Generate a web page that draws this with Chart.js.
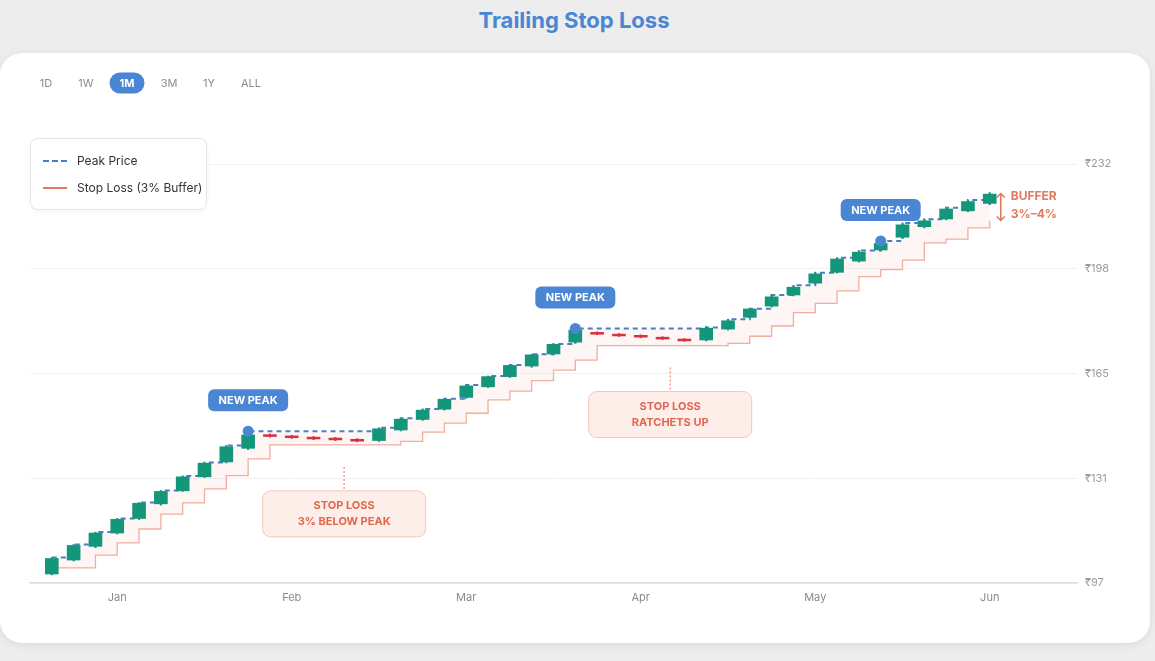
<!DOCTYPE html>
<html>
<head>
<meta charset="utf-8">
<title>Trailing Stop Loss</title>
<script src="https://cdn.jsdelivr.net/npm/chart.js@4.4.1/dist/chart.umd.min.js"></script>
<style>
  html, body { margin: 0; padding: 0; background: #ededed; font-family: Inter, "Noto Sans", sans-serif; }
  #title { position: absolute; left: 0; top: 5px; width: 1148px; text-align: center; font-size: 22px; font-weight: 700; color: #4a86d4; line-height: 30px; }
  #card { position: absolute; left: 0; top: 53px; width: 1150px; height: 590px; background: #fff; border-radius: 22px; box-shadow: 0 2px 10px rgba(0,0,0,0.08); }
  #chart { position: absolute; left: 0; top: 53px; }
  .rng { position: absolute; top: 83px; transform: translate(-50%, -50%); font-size: 11px; color: #8c8c8c; line-height: 13px; z-index: 2; }
  .rng.on { background: #4a86d4; color: #fff; font-weight: 700; padding: 4px 10px; border-radius: 11px; }
  #legend { position: absolute; left: 30px; top: 138px; width: 175px; height: 70px; background: #fff; border: 1px solid #e6e6e6; border-radius: 8px; box-shadow: 0 1px 4px rgba(0,0,0,0.05); z-index: 2; }
  .item { position: absolute; left: 12px; font-size: 12px; color: #333; line-height: 14px; }
  .item span { position: absolute; left: 34px; top: 0; white-space: nowrap; }
  .swatch { position: absolute; left: 0; top: 6px; width: 24px; height: 0; }
</style>
</head>
<body>
<div id="title">Trailing Stop Loss</div>
<div id="card"></div>
<canvas id="chart" width="1150" height="590"></canvas>

<div class="rng" style="left:46px">1D</div>
<div class="rng" style="left:86px">1W</div>
<div class="rng on" style="left:127px">1M</div>
<div class="rng" style="left:169px">3M</div>
<div class="rng" style="left:209px">1Y</div>
<div class="rng" style="left:251px">ALL</div>

<div id="legend">
  <div class="item" style="top:15px"><div class="swatch" style="border-top:2px dashed #4a7ec4"></div><span>Peak Price</span></div>
  <div class="item" style="top:42px"><div class="swatch" style="border-top:2px solid #e07a5f"></div><span>Stop Loss (3% Buffer)</span></div>
</div>

<script>
// month labels and the candle index they sit on
const months = ["Jan", "Feb", "Mar", "Apr", "May", "Jun"];
const monthPos = [3, 11, 19, 27, 35, 43];

// candles (one per step)
const openP = [99.9, 104.4, 108.8, 113.1, 117.8, 122.5, 126.7, 131.2, 136.0, 140.4,
  144.8, 144.4, 144.0, 143.7, 143.3,
  142.9, 146.3, 149.7, 153.0, 156.8, 160.2, 163.5, 166.9, 170.8, 174.6,
  177.75, 177.2, 176.8, 176.2, 175.6,
  175.3, 178.8, 182.6, 186.2, 189.8, 193.6, 197.1, 200.7, 204.3, 208.4, 211.8, 214.3, 216.9, 219.3];
const closeP = [104.9, 109.1, 113.1, 117.5, 122.7, 126.5, 131.2, 135.6, 140.9, 144.7,
  144.2, 143.8, 143.4, 143.1, 142.7,
  146.7, 149.8, 152.7, 156.2, 160.5, 163.5, 167.1, 170.5, 173.9, 178.5,
  177.15, 176.6, 176.2, 175.6, 175.0,
  179.1, 181.5, 185.3, 189.2, 192.3, 196.6, 201.4, 203.6, 206.4, 212.4, 213.7, 217.5, 219.9, 222.3];
const highP = [105.2, 109.4, 113.4, 117.8, 122.9, 126.8, 131.5, 135.8, 141.3, 145.9,
  145.0, 144.6, 144.2, 143.9, 143.5,
  147.0, 150.1, 153.1, 156.4, 160.8, 163.7, 167.2, 170.7, 174.0, 179.0,
  177.9, 177.35, 176.95, 176.35, 175.75,
  179.6, 182.0, 185.4, 189.8, 192.9, 197.0, 201.8, 204.1, 207.2, 213.0, 214.2, 217.9, 220.4, 222.8];
const lowP = [99.6, 104.1, 108.4, 112.8, 117.5, 122.1, 126.5, 131.0, 135.7, 140.0,
  144.0, 143.6, 143.2, 142.9, 142.5,
  142.6, 146.0, 149.4, 152.7, 156.5, 160.0, 163.2, 166.5, 170.5, 174.2,
  177.0, 176.45, 176.05, 175.45, 174.85,
  175.0, 178.5, 182.4, 185.9, 189.5, 193.3, 196.9, 200.4, 204.0, 208.0, 211.4, 214.0, 216.6, 218.9];

// running peak and trailing stop
const peakP = [105.2, 109.4, 113.4, 117.8, 122.9, 126.8, 131.5, 135.8, 141.3, 145.9,
  145.9, 145.9, 145.9, 145.9, 145.9,
  147.0, 150.1, 153.1, 156.4, 160.8, 163.7, 167.2, 170.7, 174.0, 179.0,
  179.0, 179.0, 179.0, 179.0, 179.0,
  179.3, 182.0, 185.4, 189.8, 192.9, 197.0, 201.8, 204.1, 207.2, 213.0, 214.2, 217.9, 220.4, 222.8];
const stopP = [101.9, 101.9, 106.0, 109.9, 114.4, 119.2, 122.8, 127.3, 131.6, 137.0,
  141.5, 141.5, 141.5, 141.5, 141.5, 141.5,
  142.6, 145.6, 148.5, 151.7, 156.0, 158.8, 162.2, 165.6, 168.8,
  173.5, 173.5, 173.5, 173.5, 173.5, 173.5,
  174.2, 176.5, 179.8, 184.1, 187.1, 191.1, 195.7, 198.0, 201.0, 206.6, 207.8, 211.4, 213.8];

const newPeakIdx = [9, 24, 38];
const callouts = [
  { at: 13.4, lines: ["STOP LOSS", "3% BELOW PEAK"] },
  { at: 28.35, lines: ["STOP LOSS", "RATCHETS UP"] }
];

const UP = "#14967a", DOWN = "#d8323f";
const candleColor = openP.map((o, i) => closeP[i] >= o ? UP : DOWN);
const xy = (arr) => arr.map((v, i) => ({ x: i, y: v }));

const notes = {
  id: "notes",
  afterDatasetsDraw(chart) {
    const { ctx, scales: { x, y } } = chart;
    ctx.save();
    ctx.textAlign = "center";
    ctx.textBaseline = "middle";

    // NEW PEAK tags
    newPeakIdx.forEach(i => {
      const px = x.getPixelForValue(i);
      const py = y.getPixelForValue(peakP[i]) - 31;
      ctx.fillStyle = "#4a86d4";
      ctx.beginPath();
      ctx.roundRect(px - 40, py - 11, 80, 22, 6);
      ctx.fill();
      ctx.fillStyle = "#fff";
      ctx.font = "700 11px Inter";
      ctx.fillText("NEW PEAK", px, py + 0.5);
    });

    // stop loss callouts
    callouts.forEach(c => {
      const px = x.getPixelForValue(c.at);
      const sy = y.getPixelForValue(stopP[Math.round(c.at)]);
      ctx.strokeStyle = "#e58a78";
      ctx.lineWidth = 1.2;
      ctx.setLineDash([2, 2]);
      ctx.beginPath();
      ctx.moveTo(px, sy + 22);
      ctx.lineTo(px, sy + 46);
      ctx.stroke();
      ctx.setLineDash([]);
      ctx.fillStyle = "#fdeee9";
      ctx.strokeStyle = "#f6c6ba";
      ctx.lineWidth = 1;
      ctx.beginPath();
      ctx.roundRect(px - 81.5, sy + 46, 163, 46, 8);
      ctx.fill();
      ctx.stroke();
      ctx.fillStyle = "#e0664f";
      ctx.font = "700 11px Inter";
      ctx.fillText(c.lines[0], px, sy + 61);
      ctx.fillText(c.lines[1], px, sy + 77);
    });

    // buffer arrow at the last candle
    const last = highP.length - 1;
    const ax = x.getPixelForValue(last) + 11;
    const y1 = y.getPixelForValue(highP[last]);
    const y2 = y.getPixelForValue(stopP[last]);
    ctx.strokeStyle = "#e07a5f";
    ctx.lineWidth = 1.6;
    ctx.beginPath();
    ctx.moveTo(ax, y1 + 1);
    ctx.lineTo(ax, y2);
    ctx.moveTo(ax - 4, y1 + 5); ctx.lineTo(ax, y1 + 1); ctx.lineTo(ax + 4, y1 + 5);
    ctx.moveTo(ax - 4, y2 - 4); ctx.lineTo(ax, y2); ctx.lineTo(ax + 4, y2 - 4);
    ctx.stroke();
    ctx.fillStyle = "#e07a5f";
    ctx.textAlign = "left";
    ctx.font = "700 12px Inter";
    ctx.fillText("BUFFER", ax + 10, y1 + 4);
    ctx.fillText("3%\u20134%", ax + 10, y1 + 22);
    ctx.restore();
  }
};

new Chart(document.getElementById("chart"), {
  type: "bar",
  data: {
    datasets: [
      {
        type: "line", label: "Peak Price", data: xy(peakP), stepped: true,
        borderColor: "#4a7ec4", borderWidth: 2, borderDash: [5, 4], pointRadius: 0,
        fill: 1, backgroundColor: "rgba(240,125,100,0.07)", order: 4
      },
      {
        type: "line", label: "Stop Loss (3% Buffer)", data: xy(stopP), stepped: true,
        borderColor: "#f2ad9e", borderWidth: 1.3, pointRadius: 0, fill: false, order: 3
      },
      {
        label: "wick", data: lowP.map((l, i) => ({ x: i, y: [l, highP[i]] })),
        backgroundColor: candleColor, barThickness: 1.5, grouped: false, order: 2
      },
      {
        label: "body", data: openP.map((o, i) => ({ x: i, y: [o, closeP[i]] })),
        backgroundColor: candleColor, barThickness: 13, grouped: false, borderSkipped: false, order: 1
      },
      {
        type: "line", label: "peak marker", data: newPeakIdx.map(i => ({ x: i, y: peakP[i] })),
        showLine: false, pointRadius: 5.5, pointBackgroundColor: "#4a86d4", pointBorderWidth: 0, order: 0
      }
    ]
  },
  options: {
    responsive: false,
    animation: false,
    layout: { padding: { left: 30, top: 111, right: 0, bottom: 0 } },
    plugins: { legend: { display: false }, tooltip: { enabled: false } },
    scales: {
      x: {
        type: "linear", min: -1, max: 47, offset: false,
        afterBuildTicks: s => { s.ticks = monthPos.map(v => ({ value: v })); },
        afterFit: s => { s.height = 60; },
        ticks: { callback: v => months[monthPos.indexOf(v)], color: "#8a8a8a", font: { family: "Inter", size: 11 }, padding: 0, maxRotation: 0 },
        grid: { display: false },
        border: { color: "#dcdcdc", width: 1.5 }
      },
      y: {
        position: "right", min: 97, max: 232,
        afterFit: s => { s.width = 73; },
        ticks: { count: 5, callback: v => "\u20b9" + Math.round(v), color: "#9a9a9a", font: { family: "Inter", size: 11 }, padding: 8 },
        grid: { color: "#f1f1f1", drawTicks: false },
        border: { display: false }
      }
    }
  },
  plugins: [notes]
});
</script>
</body>
</html>
